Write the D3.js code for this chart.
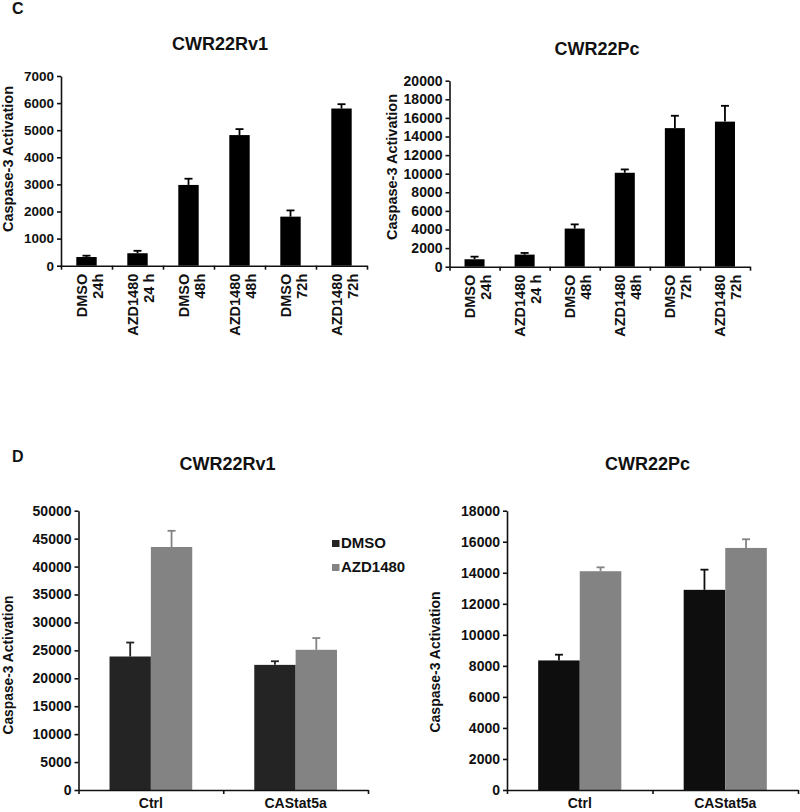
<!DOCTYPE html>
<html><head><meta charset="utf-8">
<script src="https://cdn.jsdelivr.net/npm/d3@7"></script>
<style>
body{margin:0;background:#fff}
text{font-family:"Liberation Sans",Arial,sans-serif;font-weight:bold;fill:#111}
</style>
</head><body><svg id="chart" width="800" height="812"></svg>
<script>
// ---------- DATA ----------
const cTreatments = ["DMSO","AZD1480","DMSO","AZD1480","DMSO","AZD1480"];
const cTimes = ["24h","24 h","48h","48h","72h","72h"];
const rv1TimeMeans = [320, 460, 2980, 4820, 1810, 5800];
const rv1TimeErrors = [50, 90, 230, 220, 230, 160];
const rv1TimeTicks = [0,1000,2000,3000,4000,5000,6000,7000];
const pcTimeMeans = [800, 1300, 4100, 10100, 14900, 15600];
const pcTimeErrors = [280, 180, 450, 360, 1330, 1700];
const pcTimeTicks = [0,2000,4000,6000,8000,10000,12000,14000,16000,18000,20000];

const dGroups = ["Ctrl","CAStat5a"];
const dSeries = ["DMSO","AZD1480"];
const rv1DmsoMeans = [23900, 22400];
const rv1DmsoErrors = [2500, 650];
const rv1AzdMeans = [43500, 25100];
const rv1AzdErrors = [2900, 2100];
const rv1DTicks = [0,5000,10000,15000,20000,25000,30000,35000,40000,45000,50000];
const pcDmsoMeans = [8350, 12900];
const pcDmsoErrors = [370, 1300];
const pcAzdMeans = [14100, 15600];
const pcAzdErrors = [250, 560];
const pcDTicks = [0,2000,4000,6000,8000,10000,12000,14000,16000,18000];

const yLabel = "Caspase-3 Activation";

// ---------- DRAW ----------
const svg = d3.select("#chart");
const FONT = '"Liberation Sans",Arial,sans-serif';

function styleAxis(g, fs){
  g.selectAll("path.domain").attr("stroke","#111").attr("stroke-width",1.6);
  g.selectAll(".tick line").attr("stroke","#111").attr("stroke-width",1.6);
  g.selectAll(".tick text").attr("fill","#111").style("font-family",FONT)
    .style("font-weight","bold").style("font-size",fs+"px");
}

function yAxis(o){
  const y = d3.scaleLinear().domain([0, d3.max(o.ticks)]).range([o.y0, o.yTop]);
  const g = svg.append("g").attr("transform",`translate(${o.xL},0)`)
    .call(d3.axisLeft(y).tickValues(o.ticks).tickFormat(d3.format("d"))
      .tickSize(4).tickPadding(3).tickSizeOuter(0));
  styleAxis(g, o.tickFont);
  svg.append("text").attr("transform",`translate(${o.labelX},${o.labelY}) rotate(-90)`)
    .attr("text-anchor","middle").style("font-size",o.labelFont+"px").text(yLabel);
  svg.append("text").attr("x",o.titleX).attr("y",o.titleY).attr("text-anchor","middle")
    .style("font-size","18px").text(o.title);
  return y;
}

function xAxisLine(o, n){
  const xl = d3.scaleLinear().domain([0,n]).range([o.xL,o.xR]);
  const g = svg.append("g").attr("transform",`translate(0,${o.y0})`)
    .call(d3.axisBottom(xl).tickValues(d3.range(0,n+1)).tickSize(4).tickFormat("").tickSizeOuter(0));
  styleAxis(g, 12);
}

function errBar(x, yTopVal, yBar, color){
  svg.append("line").attr("x1",x).attr("x2",x).attr("y1",yBar).attr("y2",yTopVal)
    .attr("stroke",color).attr("stroke-width",1.8);
  svg.append("line").attr("x1",x-4).attr("x2",x+4).attr("y1",yTopVal).attr("y2",yTopVal)
    .attr("stroke",color).attr("stroke-width",1.8);
}

function timePanel(o){
  const y = yAxis(o);
  const n = o.means.length;
  const x = d3.scaleBand().domain(d3.range(n)).range([o.xL,o.xR]).paddingInner(0.6).paddingOuter(0.3);
  o.means.forEach((m,i)=>{
    svg.append("rect").attr("x",x(i)).attr("y",y(m)).attr("width",x.bandwidth())
      .attr("height",o.y0-y(m)).attr("fill","#000");
    errBar(x(i)+x.bandwidth()/2, y(m+o.errs[i]), y(m), "#000");
  });
  xAxisLine(o, n);
  cTreatments.forEach((t,i)=>{
    const cx = x(i)+x.bandwidth()/2 + o.labelShift;
    const tx = svg.append("text").attr("transform",`translate(${cx},${o.y0+8}) rotate(-90)`)
      .attr("text-anchor","end").style("font-size","14.5px");
    tx.append("tspan").attr("x",0).attr("y",0).text(t);
    tx.append("tspan").attr("x",0).attr("y",16).text(cTimes[i]);
  });
}

function groupPanel(o){
  const y = yAxis(o);
  const x0 = d3.scaleBand().domain(dGroups).range([o.xL,o.xR]).padding(0);
  const x1 = d3.scaleBand().domain(dSeries).range([0,x0.bandwidth()]).paddingInner(0).paddingOuter(0.75);
  const color = d3.scaleOrdinal().domain(dSeries).range(o.colors);
  const series = [{k:"DMSO",m:o.dmso,e:o.dmsoErr},{k:"AZD1480",m:o.azd,e:o.azdErr}];
  series.forEach(s=>{
    dGroups.forEach((gname,i)=>{
      const bx = x0(gname)+x1(s.k);
      svg.append("rect").attr("x",bx).attr("y",y(s.m[i])).attr("width",x1.bandwidth())
        .attr("height",o.y0-y(s.m[i])).attr("fill",color(s.k));
      errBar(bx+x1.bandwidth()/2, y(s.m[i]+s.e[i]), y(s.m[i]), color(s.k));
    });
  });
  xAxisLine(o, dGroups.length);
  dGroups.forEach(gname=>{
    svg.append("text").attr("x",x0(gname)+x0.bandwidth()/2).attr("y",808)
      .attr("text-anchor","middle").style("font-size","14px").text(gname);
  });
  if(o.legend){
    dSeries.forEach((s,i)=>{
      const ly = o.legend.y + i*24;
      svg.append("rect").attr("x",o.legend.x).attr("y",ly-8).attr("width",7.5).attr("height",7)
        .attr("fill",color(s));
      svg.append("text").attr("x",o.legend.x+9).attr("y",ly).style("font-size","15px").text(s);
    });
  }
}

// panel letters
svg.append("text").attr("x",12).attr("y",14).style("font-size","16px").text("C");
svg.append("text").attr("x",12).attr("y",462).style("font-size","16px").text("D");

timePanel({xL:61,xR:367,y0:265.7,yTop:76,ticks:rv1TimeTicks,means:rv1TimeMeans,errs:rv1TimeErrors,
  tickFont:13.5,labelFont:14.5,labelX:13,labelY:159,title:"CWR22Rv1",titleX:220,titleY:50,labelShift:0});
timePanel({xL:449.5,xR:750,y0:266.7,yTop:80.7,ticks:pcTimeTicks,means:pcTimeMeans,errs:pcTimeErrors,
  tickFont:14,labelFont:14.5,labelX:397,labelY:167,title:"CWR22Pc",titleX:597,titleY:55,labelShift:0});

groupPanel({xL:78.5,xR:368,y0:790,yTop:510.7,ticks:rv1DTicks,dmso:rv1DmsoMeans,dmsoErr:rv1DmsoErrors,
  azd:rv1AzdMeans,azdErr:rv1AzdErrors,colors:["#242424","#838383"],tickFont:14,labelFont:13.8,
  labelX:13,labelY:665,title:"CWR22Rv1",titleX:227.5,titleY:470,legend:{x:332,y:548}});
groupPanel({xL:507,xR:798,y0:790,yTop:510.7,ticks:pcDTicks,dmso:pcDmsoMeans,dmsoErr:pcDmsoErrors,
  azd:pcAzdMeans,azdErr:pcAzdErrors,colors:["#0e0e0e","#838383"],tickFont:14,labelFont:14,
  labelX:440,labelY:662,title:"CWR22Pc",titleX:647.5,titleY:470,legend:null});
</script>
</body></html>
